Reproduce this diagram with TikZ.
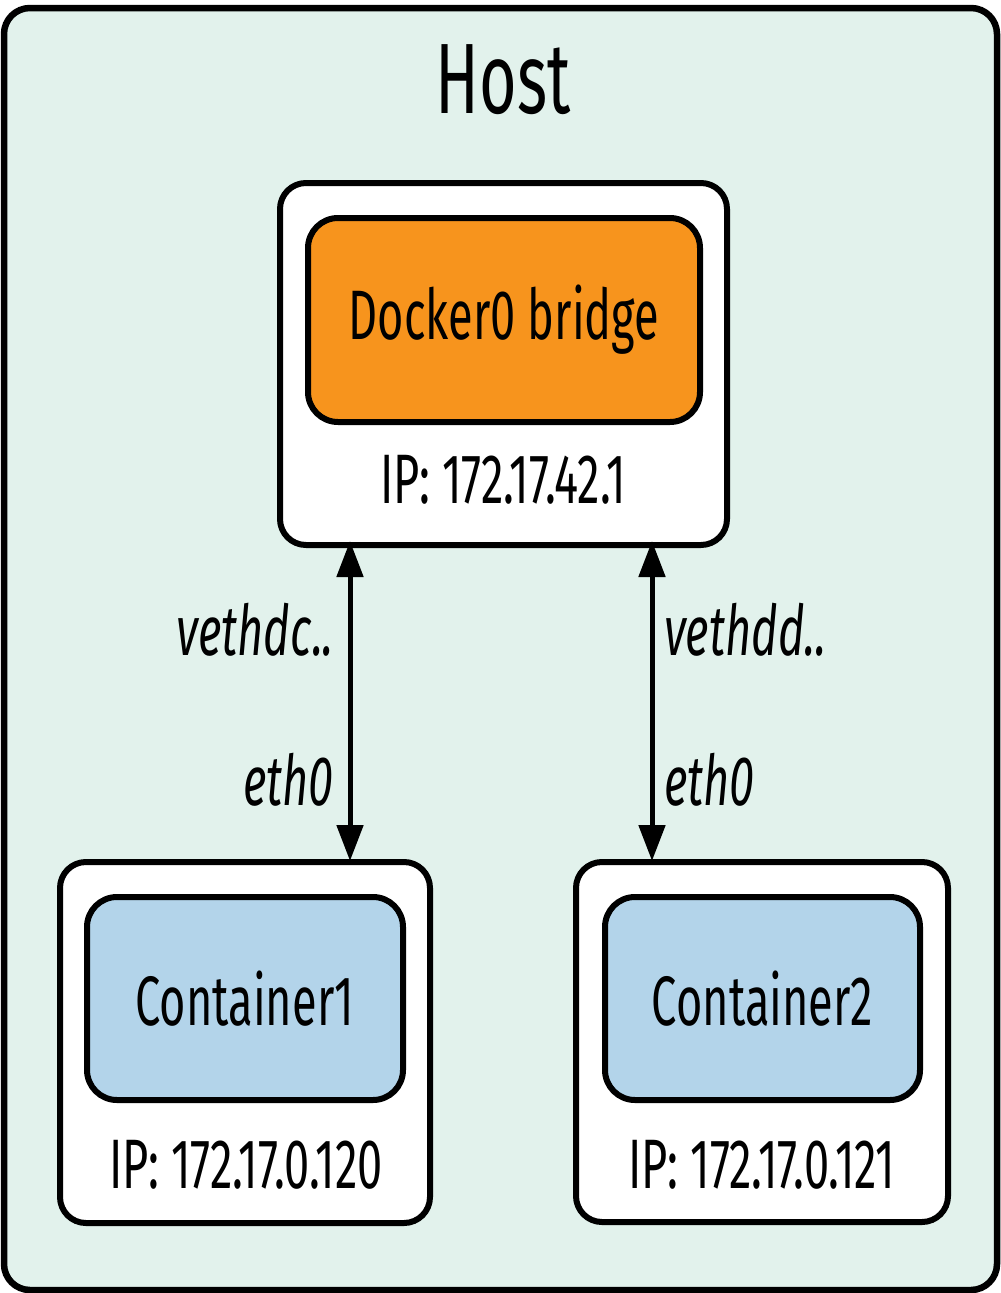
\documentclass[tikz,border=0pt]{standalone}
\usepackage{fontspec}
\setmainfont[FakeStretch=0.645]{Fira Sans}
\usetikzlibrary{arrows.meta}
\definecolor{hostbg}{HTML}{E2F2EC}
\definecolor{dockerorange}{HTML}{F7941D}
\definecolor{contblue}{HTML}{B3D4EA}
\begin{document}
\begin{tikzpicture}[x=1pt,y=-1pt,
  box/.style={draw=black, line width=6pt, rounded corners=26pt, inner sep=0pt, minimum width=#1},
  lbl/.style={font=\fontsize{70}{70}\selectfont, inner sep=0pt},
  ilbl/.style={font=\fontsize{70}{70}\selectfont\itshape, inner sep=0pt},
  arr/.style={line width=5pt, {Triangle[length=36pt,width=26pt]}-{Triangle[length=36pt,width=26pt]}}]
\useasboundingbox (0,0) rectangle (1001,1293);
% host
\node[box=993pt, minimum height=1282pt, fill=hostbg, line width=6.5pt] (host) at (500.5,649) {};
\node[font=\fontsize{100}{100}\selectfont, inner sep=0pt] (hosttitle) at (503,80) {Host};
% docker
\node[box=447pt, minimum height=362pt, fill=white] (dout) at (503.5,364) {};
\node[box=392pt, minimum height=204pt, fill=dockerorange, rounded corners=30pt, lbl] (din) at (504,320) {Docker0 bridge};
\node[lbl] (dip) at (503,480) {IP: 172.17.42.1};
% container 1
\node[box=370pt, minimum height=361pt, fill=white] (c1out) at (245,1042.5) {};
\node[box=316pt, minimum height=203pt, fill=contblue, rounded corners=30pt, lbl] (c1in) at (245,998.5) {Container1};
\node[lbl] (c1ip) at (246,1165) {IP: 172.17.0.120};
% container 2
\node[box=372pt, minimum height=360pt, fill=white] (c2out) at (762,1042) {};
\node[box=315pt, minimum height=203pt, fill=contblue, rounded corners=30pt, lbl] (c2in) at (762.5,998.5) {Container2};
\node[lbl] (c2ip) at (762,1165) {IP: 172.17.0.121};
% arrows
\coordinate (a1) at (350,0);
\coordinate (a2) at (652,0);
\draw[arr, shorten <=-7pt, shorten >=-2pt] (a1 |- dout.south) -- (a1 |- c1out.north);
\draw[arr, shorten <=-7pt, shorten >=-2pt] (a2 |- dout.south) -- (a2 |- c2out.north);
% labels
\node[ilbl, anchor=east] (v1) at (334,630) {vethdc..};
\node[ilbl, anchor=east] (e1) at (334,780) {eth0};
\node[ilbl, anchor=west] (v2) at (664,630) {vethdd..};
\node[ilbl, anchor=west] (e2) at (664,780) {eth0};
\end{tikzpicture}
\end{document}
